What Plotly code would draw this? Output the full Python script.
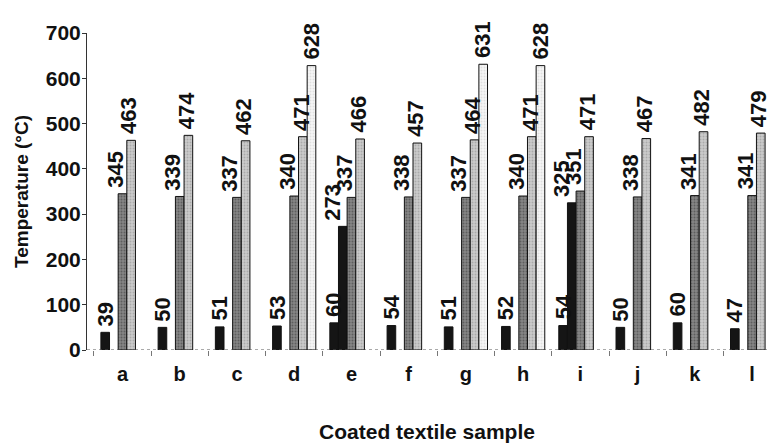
import plotly.graph_objects as go

categories = ["a", "b", "c", "d", "e", "f", "g", "h", "i", "j", "k", "l"]
series_low = [39, 50, 51, 53, 60, 54, 51, 52, 54, 50, 60, 47]
series_mid = [None, None, None, None, 273, None, None, None, 325, None, None, None]
series_dark = [345, 339, 337, 340, 337, 338, 337, 340, 351, 338, 341, 341]
series_light = [463, 474, 462, 471, 466, 457, 464, 471, 471, 467, 482, 479]
series_white = [None, None, None, 628, None, None, 631, 628, None, None, None, None]

FONT = "Liberation Sans, Arial, sans-serif"
all_series = [series_low, series_mid, series_dark, series_light, series_white]
styles = [
    dict(bg="#151515", fg="#151515", shape=""),
    dict(bg="#151515", fg="#151515", shape=""),
    dict(bg="#858585", fg="#383838", shape="."),
    dict(bg="#cbcbcb", fg="#8a8a8a", shape="."),
    dict(bg="#f6f6f6", fg="#c8c8c8", shape="."),
]
label_shift = [0, -10, -7, -2, 0]

BARGAP = 0.245
NSER = len(all_series)
slot = (1 - BARGAP) / NSER

fig = go.Figure()
for k, (vals, st) in enumerate(zip(all_series, styles)):
    fig.add_trace(go.Bar(
        x=categories, y=vals,
        marker=dict(color=st["bg"], line=dict(color="#111111", width=1),
                    pattern=dict(shape=st["shape"], fgcolor=st["fg"], bgcolor=st["bg"],
                                 size=3, solidity=0.35)),
        showlegend=False, hoverinfo="x+y",
    ))
    for i, v in enumerate(vals):
        if v is None:
            continue
        fig.add_annotation(
            x=i + (k - (NSER - 1) / 2) * slot, y=v, xref="x", yref="y",
            text=str(v), showarrow=False, textangle=-90,
            xanchor="center", yanchor="bottom", yshift=5, xshift=label_shift[k],
            borderpad=0,
            font=dict(family=FONT, size=22, color="#111111", weight="bold"),
        )

fig.add_shape(type="line", xref="paper", yref="y", x0=0, x1=1, y0=0, y1=0,
              line=dict(color="#555555", width=1, dash="dot"))

fig.update_layout(
    width=767, height=443,
    margin=dict(l=87, r=0, t=33, b=93),
    paper_bgcolor="white", plot_bgcolor="white",
    barmode="group", bargap=BARGAP, bargroupgap=0,
    font=dict(family=FONT, size=20, color="#111111", weight="bold"),
    xaxis=dict(
        type="category", range=[-0.62, 11.26],
        showline=False, showgrid=False, zeroline=False,
        ticks="outside", tickson="boundaries", ticklen=5, tickcolor="#777777",
        ticklabelstandoff=10,
        tickfont=dict(family=FONT, size=20, weight="bold"),
        title=dict(text="Coated textile sample", standoff=42,
                   font=dict(family=FONT, size=21, weight="bold")),
    ),
    yaxis=dict(
        range=[0, 700], tickvals=[0, 100, 200, 300, 400, 500, 600, 700],
        showline=True, linecolor="#333333", linewidth=1,
        showgrid=False, zeroline=False,
        ticks="outside", ticklen=4, tickcolor="#333333",
        ticklabelstandoff=-3,
        tickfont=dict(family=FONT, size=21, weight="bold"),
        title=dict(text="Temperature (°C)", standoff=12,
                   font=dict(family=FONT, size=19, weight="bold")),
    ),
)

fig.write_html("out.html")
